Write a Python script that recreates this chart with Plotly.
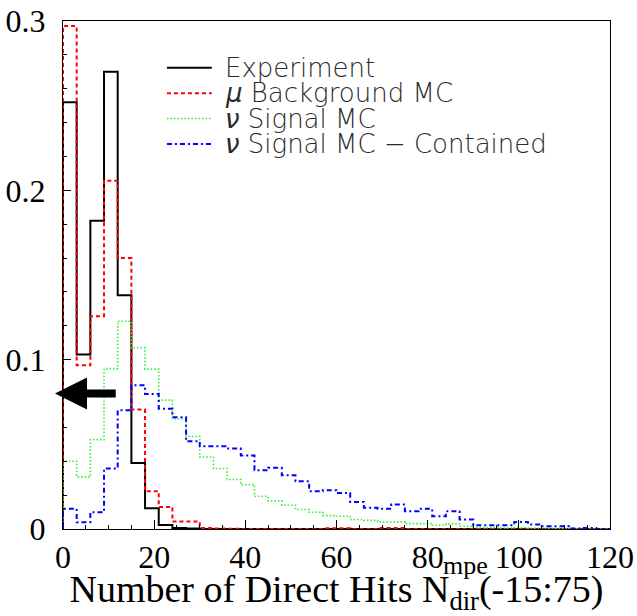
import plotly.graph_objects as go

# ---------------- data ----------------
bin_width = 3
x_min, x_max = 0, 120
bin_edges = list(range(x_min, x_max + bin_width, bin_width))  # 41 edges, 40 bins

experiment = [0.252, 0.103, 0.182, 0.270, 0.138, 0.039, 0.0122, 0.0024, 0.0006, 0.0003,
              0, 0, 0, 0, 0, 0, 0, 0, 0, 0,
              0, 0, 0, 0, 0, 0, 0, 0, 0, 0,
              0, 0, 0, 0, 0, 0, 0, 0, 0, 0]

mu_background = [0.297, 0.0967, 0.1256, 0.2057, 0.160, 0.0705, 0.0223, 0.013, 0.0044, 0.0044,
                 0.0006, 0.0003, 0.0002, 0, 0, 0, 0, 0, 0, 0.0004,
                 0.0004, 0, 0, 0.0006, 0.0006, 0, 0, 0, 0, 0,
                 0, 0, 0, 0, 0, 0, 0, 0, 0, 0]

nu_signal = [0.040, 0.0308, 0.0528, 0.0947, 0.1227, 0.107, 0.0944, 0.0761, 0.065, 0.0546,
             0.0425, 0.0357, 0.0292, 0.0262, 0.0193, 0.0166, 0.014, 0.0115, 0.0099, 0.0079,
             0.0075, 0.0056, 0.0051, 0.0042, 0.0042, 0.0032, 0.0032, 0.0022, 0.003, 0.0016,
             0.0008, 0.0008, 0.0006, 0.0008, 0.0004, 0.0004, 0.0003, 0.0002, 0.0002, 0.0001]

nu_contained = [0.0119, 0.004, 0.0099, 0.0357, 0.0701, 0.0849, 0.0797, 0.071, 0.066, 0.0518,
                0.0488, 0.0488, 0.0475, 0.0434, 0.0347, 0.0361, 0.0317, 0.0282, 0.0223, 0.0229,
                0.0213, 0.016, 0.0125, 0.0119, 0.0144, 0.0105, 0.0119, 0.0075, 0.0105, 0.0056,
                0.0022, 0.0022, 0.0022, 0.0042, 0.0026, 0.0016, 0.0016, 0.0003, 0.0006, 0.0]

series_names = ["Experiment", "<i>μ</i> Background MC", "<i>ν</i> Signal MC",
                "<i>ν</i> Signal MC − Contained"]

# cut arrow (value of the selection cut shown by the arrow)
arrow_y = 0.08
arrow_tail_x = 11.9
arrow_head_x = -1.75

x_ticks = [0, 20, 40, 60, 80, 100, 120]
y_ticks = [0, 0.1, 0.2, 0.3]

# ---------------- styles ----------------
styles = [
    dict(color="black", width=2, dash="solid"),
    dict(color="#ff0000", width=2, dash="4px,3px"),
    dict(color="#33ee33", width=1.6, dash="1.5px,2px"),
    dict(color="#0000ff", width=2, dash="5px,3px,2px,3px"),
]


def step(vals):
    xs = [bin_edges[0]] + bin_edges + [bin_edges[-1]]
    ys = [0] + list(vals) + [vals[-1], 0]
    return xs, ys


fig = go.Figure()
for vals, st, name in zip([experiment, mu_background, nu_signal, nu_contained], styles, series_names):
    xs, ys = step(vals)
    fig.add_trace(go.Scatter(x=xs, y=ys, mode="lines", line_shape="hv",
                             line=st, name=name, showlegend=False,
                             cliponaxis=True))

# legend drawn manually (lines + text), in paper coordinates
leg_x0, leg_x1, leg_tx = 0.19, 0.272, 0.2925
leg_rows = [0.908, 0.858, 0.808, 0.758]
for st, name, yy in zip(styles, series_names, leg_rows):
    fig.add_shape(type="line", xref="paper", yref="paper", x0=leg_x0, x1=leg_x1, y0=yy, y1=yy,
                  line=dict(color=st["color"], width=st["width"], dash=st["dash"]))
    fig.add_annotation(xref="paper", yref="paper", x=leg_tx, y=yy, text=name, showarrow=False,
                       xanchor="left", yanchor="middle",
                       font=dict(family="DejaVu Sans", size=26, color="#2a2a2a", weight=200))

# cut arrow
fig.add_annotation(x=arrow_head_x, y=arrow_y, ax=arrow_tail_x, ay=arrow_y,
                   xref="x", yref="y", axref="x", ayref="y",
                   showarrow=True, arrowhead=2, arrowsize=0.8, arrowwidth=8,
                   arrowcolor="black", text="")

# superscript of axis title (stacked above the "dir" subscript)
fig.add_annotation(xref="paper", yref="paper", x=0.691, y=-0.071, text="mpe", showarrow=False,
                   xanchor="left", yanchor="middle",
                   font=dict(family="Liberation Serif", size=26, color="black"))

serif = dict(family="Liberation Serif", size=32, color="black")

fig.update_layout(
    width=637, height=616,
    margin=dict(l=63, r=27, t=21, b=87, autoexpand=False),
    paper_bgcolor="white", plot_bgcolor="white",
    showlegend=False,
    xaxis=dict(range=[x_min, x_max], tickvals=x_ticks, ticks="inside", ticklen=9, tickwidth=1,
               tickcolor="black", showline=True, mirror=True, linecolor="black", linewidth=1,
               showgrid=False, zeroline=False, tickfont=serif, ticklabelstandoff=0,
               automargin=False,
               minor=dict(ticks="inside", dtick=5, ticklen=4.5, tickcolor="black", showgrid=False),
               title=dict(text="Number of Direct Hits N<sub>dir</sub>(-15:75)",
                          font=dict(family="Liberation Serif", size=38, color="black"),
                          standoff=12)),
    yaxis=dict(range=[0, 0.3], tickvals=y_ticks, ticktext=["0", "0.1", "0.2", "0.3"],
               ticks="inside", ticklen=8, tickwidth=1, automargin=False,
               tickcolor="black", showline=True, mirror=True, linecolor="black", linewidth=1,
               showgrid=False, zeroline=False, tickfont=serif, ticklabelstandoff=10,
               minor=dict(ticks="inside", dtick=0.02, ticklen=4, tickcolor="black", showgrid=False)),
)

fig.write_html("out.html")
